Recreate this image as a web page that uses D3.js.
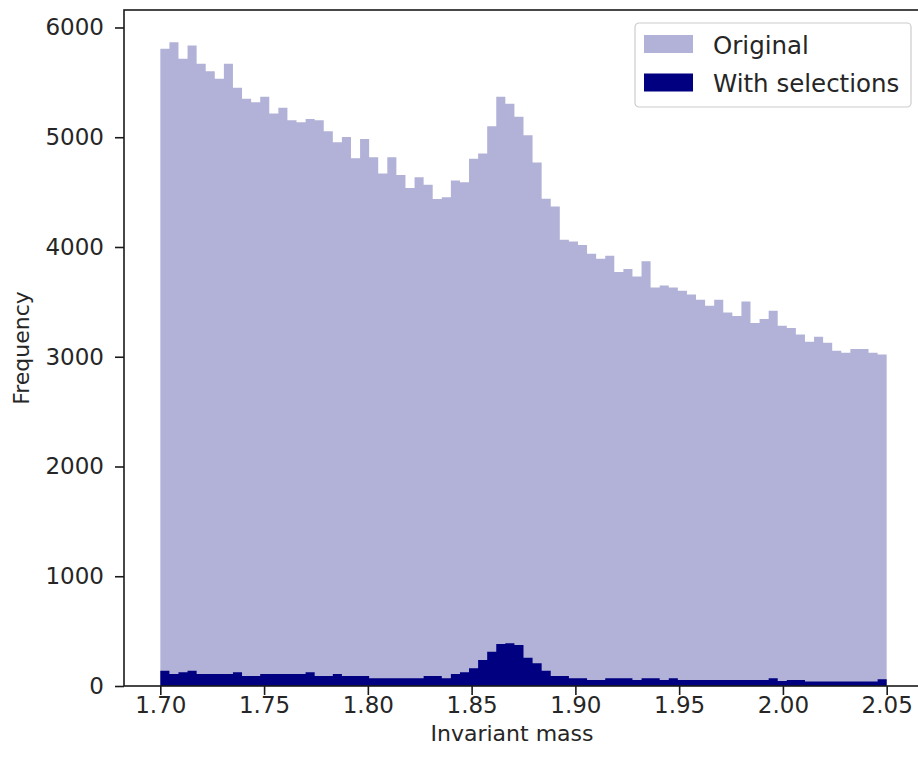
<!DOCTYPE html>
<html>
<head>
<meta charset="utf-8">
<script src="https://cdn.jsdelivr.net/npm/d3@7"></script>
<style>
  html, body { margin: 0; padding: 0; background: #fff; overflow: hidden; }
  svg { display: block; }
  text { font-family: "DejaVu Sans", sans-serif; fill: #262626; }
</style>
</head>
<body>
<svg id="chart" width="918" height="763"></svg>
<script>
// Histogram range and binning
const massMin = 1.70;
const massMax = 2.05;
const binCount = 80;

// Counts per bin, all candidates
const originalCounts = [
  5806, 5866, 5714, 5836, 5669, 5601, 5532, 5669, 5450, 5350,
  5319, 5368, 5216, 5268, 5155, 5136, 5167, 5155, 5054, 4954,
  5003, 4808, 4985, 4817, 4669, 4817, 4655, 4538, 4635, 4568,
  4438, 4454, 4605, 4589, 4803, 4851, 5100, 5368, 5304, 5186,
  5018, 4769, 4439, 4370, 4067, 4049, 4018, 3939, 3893, 3921,
  3773, 3800, 3732, 3869, 3632, 3650, 3632, 3602, 3568, 3520,
  3465, 3520, 3404, 3371, 3504, 3307, 3344, 3419, 3283, 3262,
  3203, 3137, 3182, 3128, 3055, 3036, 3070, 3070, 3036, 3021
];

// Counts per bin after the selection cuts
const selectedCounts = [
  140, 109, 125, 140, 109, 109, 109, 109, 125, 91,
  91, 109, 109, 109, 109, 109, 125, 91, 91, 109,
  91, 91, 91, 70, 70, 70, 70, 70, 70, 91,
  91, 70, 109, 125, 161, 237, 313, 383, 389, 374,
  258, 207, 140, 91, 91, 70, 70, 55, 55, 70,
  70, 70, 55, 70, 70, 55, 70, 55, 55, 55,
  55, 55, 55, 55, 55, 55, 55, 70, 45, 55,
  55, 40, 40, 40, 40, 40, 40, 40, 40, 61
];

// Axis ticks and labels
const xTicks = [1.70, 1.75, 1.80, 1.85, 1.90, 1.95, 2.00, 2.05];
const yTicks = [0, 1000, 2000, 3000, 4000, 5000, 6000];
const seriesNames = ["Original", "With selections"];
const xLabel = "Invariant mass";
const yLabel = "Frequency";

const tickFont = 23;
const titleFont = 22;
const legendFont = 24.5;
const axisColor = "#1a1a1a";

const svg = d3.select("#chart");

// Axes box
const plot = { left: 124, right: 923, top: 10, bottom: 686 };

const binWidth = (massMax - massMin) / binCount;
const edges = d3.range(binCount + 1).map(i => massMin + i * binWidth);

const pad = 0.05 * (massMax - massMin);
const x = d3.scaleLinear()
  .domain([massMin - pad, massMax + pad])
  .range([plot.left, plot.right]);

const yMax = 1.05 * d3.max(originalCounts);
const y = d3.scaleLinear()
  .domain([0, yMax])
  .range([plot.bottom, plot.top]);

// Step outline of a histogram as a filled area
function stepPoints(counts) {
  const pts = counts.map((c, i) => [edges[i], c]);
  pts.push([edges[binCount], counts[binCount - 1]]);
  return pts;
}
const area = d3.area()
  .x(d => x(d[0]))
  .y0(y(0))
  .y1(d => y(d[1]))
  .curve(d3.curveStepAfter);

svg.append("path")
  .attr("d", area(stepPoints(originalCounts)))
  .attr("fill", "navy")
  .attr("fill-opacity", 0.3);

svg.append("path")
  .attr("d", area(stepPoints(selectedCounts)))
  .attr("fill", "navy");

// Frame
svg.append("rect")
  .attr("x", plot.left)
  .attr("y", plot.top)
  .attr("width", plot.right - plot.left)
  .attr("height", plot.bottom - plot.top)
  .attr("fill", "none")
  .attr("stroke", axisColor)
  .attr("stroke-width", 1.6);

// X axis
const xAxis = d3.axisBottom(x)
  .tickValues(xTicks)
  .tickFormat(d3.format(".2f"))
  .tickSize(9)
  .tickPadding(2);
const gx = svg.append("g")
  .attr("transform", `translate(0,${plot.bottom})`)
  .call(xAxis);
gx.select(".domain").remove();
gx.selectAll(".tick line").attr("stroke", axisColor).attr("stroke-width", 1.6);
gx.selectAll(".tick text")
  .style("font-family", "DejaVu Sans")
  .style("font-size", tickFont + "px")
  .attr("fill", "#262626");

// Y axis
const yAxis = d3.axisLeft(y)
  .tickValues(yTicks)
  .tickFormat(d3.format("d"))
  .tickSize(9)
  .tickPadding(11);
const gy = svg.append("g")
  .attr("transform", `translate(${plot.left},0)`)
  .call(yAxis);
gy.select(".domain").remove();
gy.selectAll(".tick line").attr("stroke", axisColor).attr("stroke-width", 1.6);
gy.selectAll(".tick text")
  .style("font-family", "DejaVu Sans")
  .style("font-size", tickFont + "px")
  .attr("fill", "#262626");

// Axis titles
svg.append("text")
  .attr("x", 512)
  .attr("y", 733)
  .attr("text-anchor", "middle")
  .attr("dominant-baseline", "central")
  .style("font-size", titleFont + "px")
  .text(xLabel);

svg.append("text")
  .attr("transform", `translate(21,${(plot.top + plot.bottom) / 2}) rotate(-90)`)
  .attr("text-anchor", "middle")
  .attr("dominant-baseline", "central")
  .style("font-size", titleFont + "px")
  .text(yLabel);

// Legend
const legend = svg.append("g").attr("transform", "translate(635,23)");
legend.append("rect")
  .attr("width", 276)
  .attr("height", 84)
  .attr("rx", 4)
  .attr("fill", "white")
  .attr("fill-opacity", 0.8)
  .attr("stroke", "#cccccc")
  .attr("stroke-width", 1.2);

const legendItems = [
  { name: seriesNames[0], fill: "navy", opacity: 0.3 },
  { name: seriesNames[1], fill: "navy", opacity: 1 }
];
legendItems.forEach((item, i) => {
  const rowY = 21 + i * 38.5;
  legend.append("rect")
    .attr("x", 9)
    .attr("y", rowY - 9)
    .attr("width", 49)
    .attr("height", 18)
    .attr("fill", item.fill)
    .attr("fill-opacity", item.opacity);
  legend.append("text")
    .attr("x", 78)
    .attr("y", rowY + 1)
    .attr("dominant-baseline", "central")
    .style("font-size", legendFont + "px")
    .text(item.name);
});
</script>
</body>
</html>
